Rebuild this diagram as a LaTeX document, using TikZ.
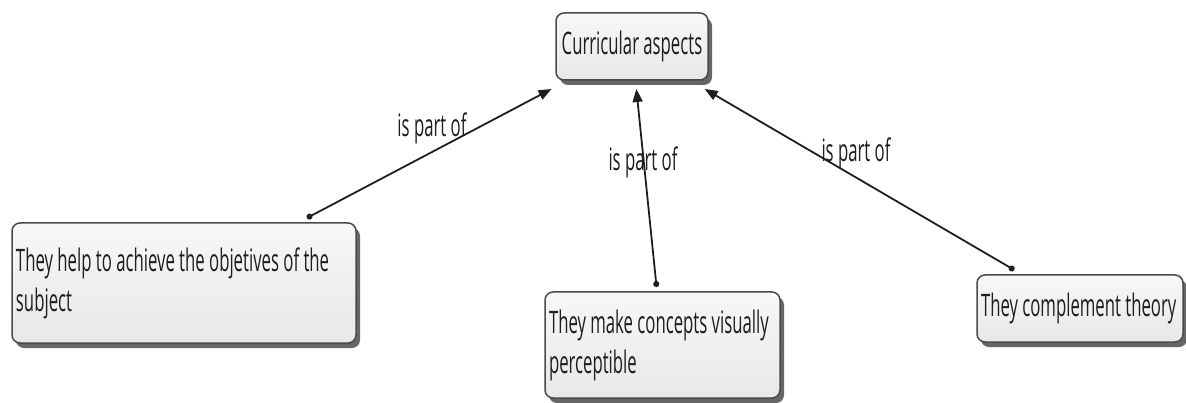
\documentclass[tikz,border=0pt]{standalone}
\usepackage{fontspec}
\setmainfont{Open Sans}[FakeStretch=0.54]
\usetikzlibrary{arrows.meta,shadows}
\definecolor{boxline}{HTML}{4A4A4A}
\definecolor{ink}{HTML}{1E1E1E}
\begin{document}
\begin{tikzpicture}[x=1pt,y=-1pt,
  concept/.style={rectangle, rounded corners=8pt, draw=boxline, line width=1.5pt,
    top color=black!3, bottom color=black!9,
    drop shadow={shadow xshift=4pt, shadow yshift=-5pt, fill=black!80, opacity=0.75},
    inner xsep=4pt, inner ysep=0pt, outer sep=5pt,
    font=\fontsize{31}{40}\selectfont, text=ink},
  lbl/.style={font=\fontsize{31}{36}\selectfont, text=ink, inner sep=0pt},
  link/.style={line width=1.8pt, draw=ink,
    {Circle[length=6pt]}-{Triangle[length=13pt,width=10pt]}}]
\useasboundingbox (0,0) rectangle (1186,403);

% central concept
\node[concept, minimum width=152pt, minimum height=67pt, align=center, outer sep=9pt]
  (top) at (632,46.5) {Curricular aspects};

% subordinate concepts
\node[concept, minimum height=120pt, text width=336pt, align=flush left]
  (left) at (184,283) {They help to achieve the objetives of the\\subject};
\node[concept, minimum height=106pt, text width=227pt, align=flush left]
  (mid) at (662.5,345) {They make concepts visually\\perceptible};
\node[concept, minimum height=67pt, text width=198pt, align=flush left]
  (right) at (1080,308.5) {They complement theory};

% linking phrases
\node[lbl] (l1) at (432,128) {is part of};
\node[lbl] (l2) at (643,162) {is part of};
\node[lbl] (l3) at (856,153) {is part of};

% connectors
\draw[link] (left) -- (top);
\draw[link] (mid) -- (top);
\draw[link] (right) -- (top);
\end{tikzpicture}
\end{document}
